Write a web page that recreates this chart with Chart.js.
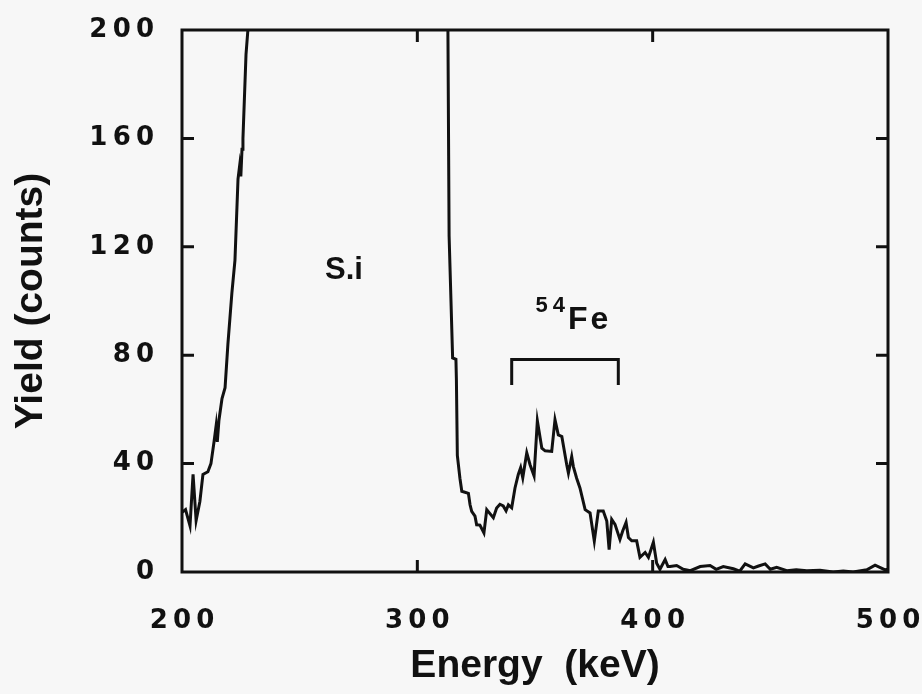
<!DOCTYPE html>
<html>
<head>
<meta charset="utf-8">
<script src="https://cdn.jsdelivr.net/npm/chart.js@4/dist/chart.umd.min.js"></script>
<style>
  html, body { margin: 0; padding: 0; background: #f7f7f7; }
  #wrap { width: 922px; height: 694px; }
</style>
</head>
<body>
<div id="wrap"><canvas id="spectrum"></canvas></div>
<script>
// Energy (keV) and yield (counts); 400 marks the off-scale Si plateau
const energy = [
  200, 201.5, 203.4, 204.7, 206, 207.6, 208.9, 211, 212.3, 213.6, 214.5, 215, 215.7, 217, 218.3, 219.5,
  221.2, 222.5, 223.8, 224.5, 225, 225.5, 225.9, 227.2, 228, 229,
  312.5, 313, 313.5, 315, 316.4, 316.6, 317, 318.1, 318.9, 321.7, 322.4, 323.1, 324.5, 325.2, 326.6, 328.3,
  329.5, 330.6, 332.3, 333.7, 335.1, 336.5, 337.7, 338.7, 340.1, 341.5, 342.9, 343.9, 344.8, 346.5, 347.9,
  349.6, 351, 352.9, 354.3, 357.1, 358.5, 359.9, 361.4, 363.5, 364.2, 365.6, 366.3, 367.7, 369.1, 371.3,
  373.4, 375.2, 376.9, 379, 380.5, 381.5, 382.6, 384, 386.1, 387.3, 388.7, 389.7, 391.1, 393.2, 394.6,
  396.8, 398.2, 400.3, 401.7, 403.1, 405.3, 406.5,
  407.4, 410.2, 413, 416, 420.2, 424.4, 427, 430, 434.3, 437, 439.3, 442.8, 445, 447.8, 450, 452.7, 457,
  461, 465.5, 471.1, 476.7, 481, 485.2, 491, 494.5, 498.8, 500
];
const counts = [
  22, 23, 17, 36, 19, 26, 36, 37, 40, 48, 54, 48, 56, 64, 68, 84,
  103, 115, 145, 150, 146, 156, 160, 191, 200, 400,
  400, 200, 124, 79, 78.5, 71, 43, 34.6, 29.8, 29, 24.8, 22.4, 20.6, 17.4, 17.3, 14.4,
  23, 21.8, 20, 23.6, 25, 24.4, 22.6, 24.8, 23.7, 31, 36, 38.5, 34.8, 44, 39.6,
  35.5, 55.8, 45.7, 44.7, 44.5, 56.2, 50.6, 50, 39.5, 36.5, 42.6, 38.9, 34.6, 31, 23,
  21.8, 11.4, 22.5, 22.5, 18.8, 8.3, 19.4, 17.6, 12, 15.2, 18.3, 12.7, 11.5, 11.5, 5.4,
  7.2, 5.4, 11, 3.2, 1, 4.6, 2,
  2, 2.4, 1, 0.5, 2, 2.4, 1, 2, 1.2, 0.3, 3, 1.5, 2.2, 3, 1, 1.7, 0.5,
  0.8, 0.5, 0.6, 0, 0.4, 0, 0.8, 2.5, 0.8, 1
];

// 54Fe window bracket
const bracketE = [340.1, 340.1, 385.4, 385.4];
const bracketY = [69, 78.4, 78.4, 69];

const xTicks = [200, 300, 400, 500];
const yTicks = [0, 40, 80, 120, 160, 200];

const labels = [
  { text: "S.i", e: 260.8, y: 108, size: 31 },
  { text: "Fe", e: 364, y: 89.5, size: 32, sup: "54" }
];

const ink = "#111111";

function spaced(value) {
  return String(value).split("").join("\u2009");
}

const framePlugin = {
  id: "frame",
  afterDatasetsDraw(chart) {
    const { ctx, chartArea: a, scales } = chart;
    ctx.save();
    ctx.strokeStyle = ink;
    ctx.lineWidth = 3;
    ctx.strokeRect(a.left, a.top, a.right - a.left, a.bottom - a.top);

    const len = 12;
    ctx.beginPath();
    yTicks.slice(1, -1).forEach((v) => {
      const py = scales.y.getPixelForValue(v);
      ctx.moveTo(a.left, py);
      ctx.lineTo(a.left + len, py);
      ctx.moveTo(a.right, py);
      ctx.lineTo(a.right - len, py);
    });
    xTicks.slice(1, -1).forEach((v) => {
      const px = scales.x.getPixelForValue(v);
      ctx.moveTo(px, a.bottom);
      ctx.lineTo(px, a.bottom - len);
      ctx.moveTo(px, a.top);
      ctx.lineTo(px, a.top + len);
    });
    ctx.stroke();

    ctx.fillStyle = ink;
    ctx.textBaseline = "alphabetic";
    labels.forEach((lbl) => {
      const px = scales.x.getPixelForValue(lbl.e);
      const py = scales.y.getPixelForValue(lbl.y);
      ctx.save();
      if (lbl.sup) {
        ctx.font = "bold 22px 'Liberation Sans', Arial, sans-serif";
        ctx.letterSpacing = "5px";
        ctx.textAlign = "right";
        ctx.fillText(lbl.sup, px + 2, py - 17);
        ctx.letterSpacing = "3px";
        ctx.textAlign = "left";
      }
      ctx.font = `bold ${lbl.size}px 'Liberation Sans', Arial, sans-serif`;
      ctx.fillText(lbl.text, px, py);
      ctx.restore();
    });
    ctx.restore();
  }
};

const tickFont = { family: "'DejaVu Sans', sans-serif", size: 26, weight: "bold" };
const titleFont = { family: "'Liberation Sans', Arial, sans-serif", size: 39, weight: "bold" };

new Chart(document.getElementById("spectrum"), {
  type: "line",
  data: {
    datasets: [
      {
        data: energy.map((e, i) => ({ x: e, y: counts[i] })),
        borderColor: ink,
        borderWidth: 3,
        pointRadius: 0,
        tension: 0,
        fill: false
      },
      {
        data: bracketE.map((e, i) => ({ x: e, y: bracketY[i] })),
        borderColor: ink,
        borderWidth: 3,
        pointRadius: 0,
        tension: 0,
        fill: false
      }
    ]
  },
  options: {
    responsive: true,
    maintainAspectRatio: false,
    animation: false,
    layout: { padding: { top: 30, right: 34, left: 0, bottom: 0 } },
    plugins: {
      legend: { display: false },
      tooltip: { enabled: false }
    },
    scales: {
      x: {
        type: "linear",
        min: 200,
        max: 500,
        afterBuildTicks(scale) {
          scale.ticks = xTicks.map((v) => ({ value: v }));
        },
        afterFit(scale) {
          scale.height = 122;
          scale.paddingLeft = 0;
          scale.paddingRight = 0;
        },
        grid: { display: false },
        border: { display: false },
        ticks: {
          color: ink,
          font: tickFont,
          padding: 26,
          maxRotation: 0,
          callback: (v) => spaced(v)
        },
        title: {
          display: true,
          text: "Energy  (keV)",
          color: ink,
          font: titleFont,
          padding: { top: 0 }
        }
      },
      y: {
        min: 0,
        max: 200,
        afterBuildTicks(scale) {
          scale.ticks = yTicks.map((v) => ({ value: v }));
        },
        afterFit(scale) {
          scale.width = 182;
          scale.paddingTop = 0;
          scale.paddingBottom = 0;
        },
        grid: { display: false },
        border: { display: false },
        ticks: {
          color: ink,
          font: tickFont,
          padding: 20,
          callback: (v) => spaced(v)
        },
        title: {
          display: true,
          text: "Yield (counts)",
          color: ink,
          font: titleFont,
          padding: { bottom: 0, top: 8 }
        }
      }
    }
  },
  plugins: [framePlugin]
});
</script>
</body>
</html>
